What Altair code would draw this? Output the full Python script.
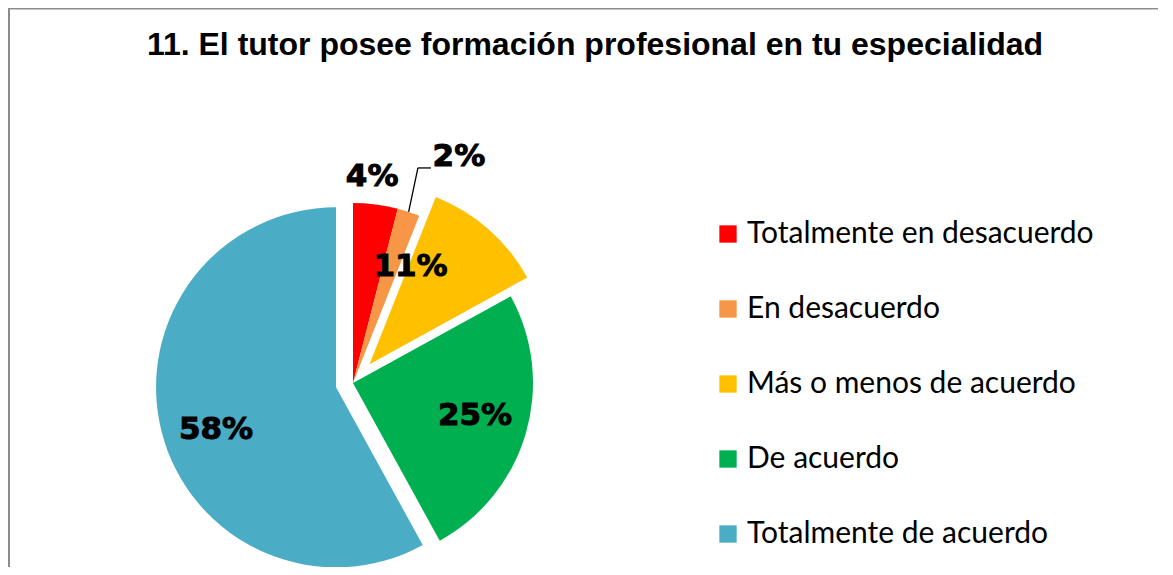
import math
import altair as alt
import pandas as pd

# ---- data ----
title_text = "11. El tutor posee formación profesional en tu especialidad"
categories = [
    "Totalmente en desacuerdo",
    "En desacuerdo",
    "Más o menos de acuerdo",
    "De acuerdo",
    "Totalmente de acuerdo",
]
percentages = [4, 2, 11, 25, 58]

# ---- presentation settings ----
palette = ["#FF0000", "#F79646", "#FFC000", "#00B050", "#4BACC6"]
explode_px = [0, 0, 25, 0, 17.5]
label_radius = [1.15, 1.387, 0.585, 0.702, 0.708]
label_nudge_deg = [-1.9, 7.1, -18.5, -1.1, -5.3]
has_leader = [0, 1, 0, 0, 0]

W, H = 1150, 559
CX, CY, R = 345, 375, 180

df = pd.DataFrame({
    "cat": categories,
    "pct": percentages,
    "idx": list(range(len(categories))),
    "explode": explode_px,
    "lr": label_radius,
    "ln": label_nudge_deg,
    "leader": has_leader,
})
total = sum(percentages)

base = (
    alt.Chart(df)
    .transform_window(cum="sum(pct)", sort=[alt.SortField("idx")], frame=[None, 0])
    .transform_joinaggregate(total="sum(pct)")
    .transform_calculate(start="datum.cum - datum.pct")
    .transform_calculate(mid="2*PI*(datum.cum - datum.pct/2)/datum.total")
    .transform_calculate(cx=f"{CX} + datum.explode*sin(datum.mid)")
    .transform_calculate(cy=f"{CY} - datum.explode*cos(datum.mid)")
    .transform_calculate(lx=f"datum.cx + datum.lr*{R}*sin(datum.mid + datum.ln*PI/180)")
    .transform_calculate(ly=f"datum.cy - datum.lr*{R}*cos(datum.mid + datum.ln*PI/180)")
    .transform_calculate(label="datum.pct + '%'")
)

pie = base.mark_arc(outerRadius=R, innerRadius=0, strokeWidth=0).encode(
    theta=alt.Theta("start:Q", scale=alt.Scale(domain=[0, total], range=[0, 2 * math.pi]), stack=False),
    theta2="cum:Q",
    x=alt.X("cx:Q", scale=None, axis=None),
    y=alt.Y("cy:Q", scale=None, axis=None),
    color=alt.Color(
        "cat:N",
        scale=alt.Scale(domain=categories, range=palette),
        legend=alt.Legend(
            title=None,
            orient="none",
            legendX=705,
            legendY=211,
            symbolType="square",
            symbolSize=300,
            symbolStrokeWidth=0,
            symbolOpacity=1,
            labelFont="Lato",
            labelFontSize=30,
            labelColor="#000000",
            labelOffset=4,
            labelLimit=600,
            rowPadding=45,
            padding=0,
        ),
    ),
)

labels = base.mark_text(
    font="DejaVu Sans", fontWeight="bold", fontSize=31, color="black",
    stroke="black", strokeWidth=1.0, align="center", baseline="middle",
).encode(
    x=alt.X("lx:Q", scale=None, axis=None),
    y=alt.Y("ly:Q", scale=None, axis=None),
    text="label:N",
)

lead_base = (
    base.transform_filter("datum.leader == 1")
    .transform_calculate(p1x=f"{CX} + {R}*sin(datum.mid)")
    .transform_calculate(p1y=f"{CY} - {R}*cos(datum.mid)")
    .transform_calculate(ex=f"{CX} + {R}*1.248*sin(datum.mid - 1.2*PI/180)")
    .transform_calculate(ey=f"{CY} - {R}*1.248*cos(datum.mid - 1.2*PI/180)")
    .transform_calculate(hx="datum.ex + 13")
)
lead1 = lead_base.mark_rule(color="black", strokeWidth=1.3).encode(
    x=alt.X("p1x:Q", scale=None, axis=None),
    y=alt.Y("p1y:Q", scale=None, axis=None),
    x2="ex:Q",
    y2="ey:Q",
)
lead2 = lead_base.mark_rule(color="black", strokeWidth=1.3).encode(
    x=alt.X("ex:Q", scale=None, axis=None),
    y=alt.Y("ey:Q", scale=None, axis=None),
    x2="hx:Q",
    y2="ey:Q",
)

one = pd.DataFrame({"t": [title_text]})
title = alt.Chart(one).mark_text(
    font="Liberation Sans", fontWeight="bold", fontSize=32, color="black",
    align="center", baseline="alphabetic",
).encode(x=alt.value(587), y=alt.value(47), text="t:N")

border_left = alt.Chart(one).mark_rule(color="#8c8c8c", strokeWidth=2).encode(
    x=alt.value(1), y=alt.value(0), y2=alt.value(H)
)
border_top = alt.Chart(one).mark_rule(color="#8c8c8c", strokeWidth=1.5).encode(
    x=alt.value(0), x2=alt.value(W), y=alt.value(0.75)
)

chart = (
    alt.layer(border_left, border_top, pie, lead1, lead2, labels, title)
    .properties(width=W, height=H, autosize="none", padding=0)
    .configure_view(stroke=None)
    .configure(background="white")
)

chart.save("out.html", embed_options={"renderer": "svg", "actions": False})
